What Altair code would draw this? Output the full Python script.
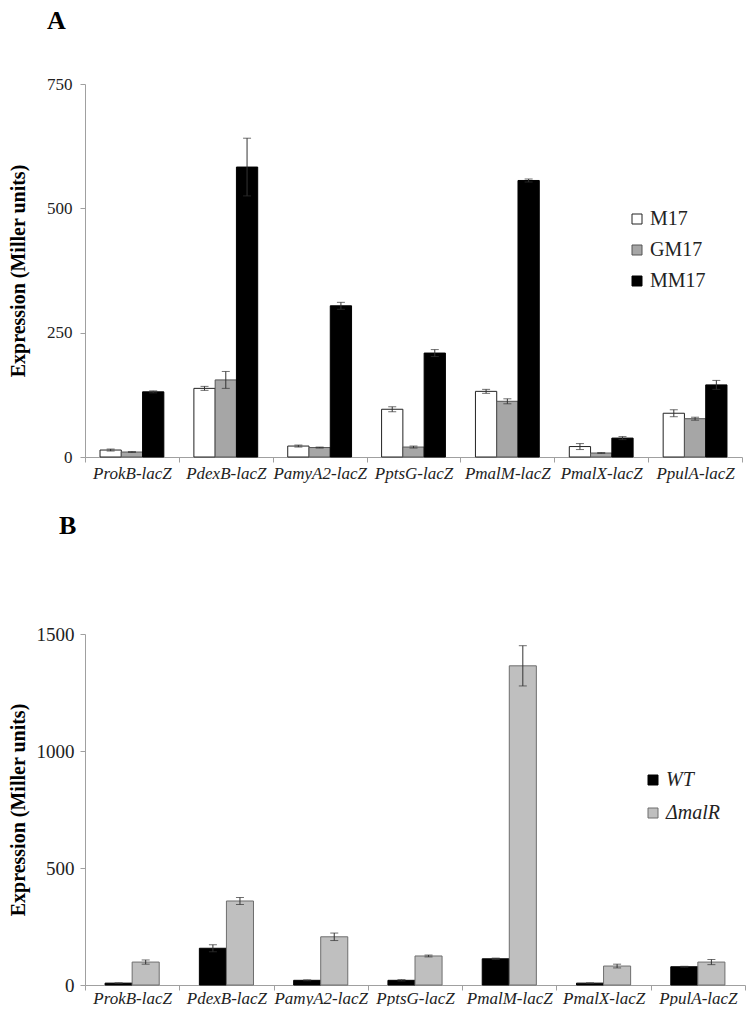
import altair as alt
import pandas as pd

genes = ["ProkB-lacZ", "PdexB-lacZ", "PamyA2-lacZ", "PptsG-lacZ",
         "PmalM-lacZ", "PmalX-lacZ", "PpulA-lacZ"]

# Panel A
series_a = ["M17", "GM17", "MM17"]
m17 = [14, 138, 22, 96, 132, 21, 88]
m17_err = [2, 4, 2, 5, 4, 6, 7]
gm17 = [10, 155, 19, 20, 112, 8, 77]
gm17_err = [1, 17, 1, 2, 5, 1, 3]
mm17 = [131, 583, 304, 209, 556, 38, 145]
mm17_err = [2, 58, 7, 7, 3, 3, 9]

# Panel B
series_b = ["WT", "ΔmalR"]
wt = [8, 157, 20, 20, 112, 8, 78]
wt_err = [1, 15, 2, 3, 3, 1, 2]
dmalr = [98, 359, 206, 124, 1364, 81, 98]
dmalr_err = [9, 15, 16, 4, 86, 8, 11]

FONT = "Liberation Serif"


def build_df(series, vals_list, errs_list):
    rows = []
    for s, vals, errs in zip(series, vals_list, errs_list):
        for g, v, e in zip(genes, vals, errs):
            rows.append({"gene": g, "series": s, "value": v,
                         "lo": v - e, "hi": v + e})
    return pd.DataFrame(rows)


dfa = build_df(series_a, [m17, gm17, mm17], [m17_err, gm17_err, mm17_err])
dfb = build_df(series_b, [wt, dmalr], [wt_err, dmalr_err])


def panel(df, series, fills, strokes, ymax, yvals, width, height,
          po, xfs, xpad, yfs, label_pad, title_pad, leg_x, leg_y,
          leg_row_pad, leg_italic, title_text, title_dx, title_offset):
    xaxis = alt.Axis(tickBand="extent", labelAngle=0, labelFontStyle="italic",
                     labelFontSize=xfs, labelFont=FONT, labelColor="#222222",
                     labelPadding=xpad, tickSize=5, domainColor="#a0a0a0",
                     tickColor="#a0a0a0", title=None)
    x = alt.X("gene:N", sort=genes, axis=xaxis,
              scale=alt.Scale(paddingInner=0, paddingOuter=0))
    xo = alt.XOffset("series:N", sort=series,
                     scale=alt.Scale(domain=series, paddingInner=0,
                                     paddingOuter=po))
    yaxis = alt.Axis(values=yvals, format="d",
                     title="Expression (Miller units)",
                     titleFont=FONT, titleFontSize=20, titleFontWeight="bold",
                     titleColor="#000000", titlePadding=title_pad,
                     labelFont=FONT, labelFontSize=yfs, labelColor="#222222",
                     labelPadding=label_pad, tickSize=5, grid=False,
                     domainColor="#a0a0a0", tickColor="#a0a0a0")
    yscale = alt.Scale(domain=[0, ymax], nice=False)
    base = alt.Chart(df)
    legend = alt.Legend(orient="none", legendX=leg_x, legendY=leg_y,
                        title=None, symbolType="square", symbolSize=100,
                        labelFont=FONT, labelFontSize=20,
                        labelColor="#222222",
                        labelFontStyle="italic" if leg_italic else "normal",
                        symbolStrokeColor="#333333", symbolStrokeWidth=1,
                        rowPadding=leg_row_pad, labelOffset=3)
    bars = base.mark_bar(strokeWidth=1).encode(
        x=x, xOffset=xo,
        y=alt.Y("value:Q", scale=yscale, axis=yaxis),
        fill=alt.Fill("series:N", sort=series,
                      scale=alt.Scale(domain=series, range=fills),
                      legend=legend),
        stroke=alt.Stroke("series:N", sort=series,
                          scale=alt.Scale(domain=series, range=strokes),
                          legend=None),
    )
    rule = base.mark_rule(color="#333333", strokeWidth=1).encode(
        x=x, xOffset=xo,
        y=alt.Y("lo:Q", scale=yscale, axis=yaxis), y2="hi:Q")
    cap_lo = base.mark_tick(color="#333333", thickness=1, size=8).encode(
        x=x, xOffset=xo, y=alt.Y("lo:Q", scale=yscale, axis=yaxis))
    cap_hi = base.mark_tick(color="#333333", thickness=1, size=8).encode(
        x=x, xOffset=xo, y=alt.Y("hi:Q", scale=yscale, axis=yaxis))
    return alt.layer(bars, rule, cap_lo, cap_hi).properties(
        width=width, height=height,
        title=alt.TitleParams(title_text, anchor="start", frame="group",
                              font=FONT, fontSize=26, fontWeight="bold",
                              color="#000000", dx=title_dx,
                              offset=title_offset),
    )


chart_a = panel(dfa, series_a, ["#ffffff", "#a6a6a6", "#000000"],
                ["#222222", "#555555", "#000000"], 750, [0, 250, 500, 750],
                657, 373, 0.706, 17, 3, 17, 8, 18,
                542, 125, 11, False, "A", -38, 41)
chart_b = panel(dfb, series_b, ["#000000", "#bfbfbf"],
                ["#000000", "#6e6e6e"], 1500, [0, 500, 1000, 1500],
                660, 351, 0.742, 17, 0, 19, 6, 8,
                558, 136, 13, True, "B", -26, 86)

chart = alt.concat(chart_a, chart_b, columns=1, spacing=32,
                   padding={"top": 0, "left": 0, "right": 0, "bottom": 0}
                   ).resolve_scale(
    fill="independent", stroke="independent", xOffset="independent",
    x="independent", y="independent"
).configure(background="#ffffff").configure_view(stroke=None, strokeWidth=0)

chart.save("out.html", embed_options={"renderer": "svg", "actions": False})
